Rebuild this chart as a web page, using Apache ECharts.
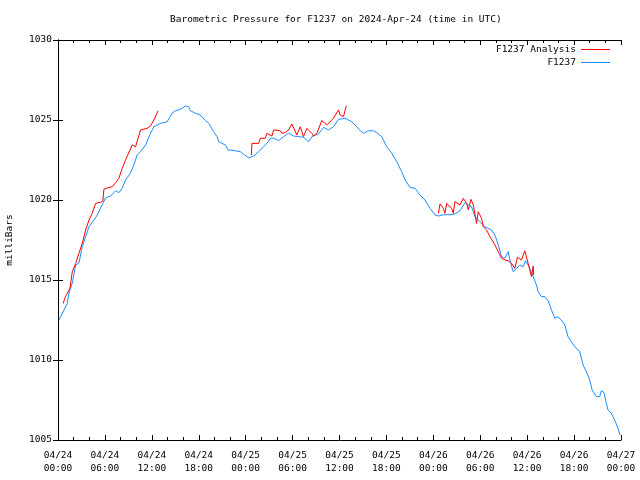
<!DOCTYPE html>
<html>
<head>
<meta charset="utf-8">
<script src="https://cdn.jsdelivr.net/npm/echarts@6/dist/echarts.min.js"></script>
<style>html,body{margin:0;padding:0;background:#fff}#c{width:640px;height:480px}</style>
</head>
<body>
<div id="c"></div>
<script>
// Hours since 2024-04-24 00:00 UTC
const stationHours = [0.13,1.19,1.40,1.83,2.26,2.68,3.10,3.54,3.96,4.60,5.02,5.45,6.09,6.73,7.37,7.79,8.21,8.64,9.28,9.70,10.12,10.56,11.20,11.83,12.26,13.11,13.31,13.95,14.59,15.03,15.45,15.87,16.30,16.72,16.94,17.58,18.22,18.86,19.28,19.91,20.34,20.55,20.97,21.41,21.74,22.69,23.32,23.74,24.38,25.02,25.66,26.30,26.72,27.15,27.57,28.21,28.85,29.49,30.13,30.77,31.40,32.04,32.46,33.32,33.96,34.60,35.23,35.87,36.73,37.57,38.21,38.64,39.06,39.70,40.34,40.77,41.40,42.04,42.68,43.32,43.95,44.39,45.03,45.66,46.30,46.94,47.58,48.22,48.64,49.28,50.13,50.77,51.41,52.05,52.47,52.89,53.32,53.96,54.60,55.44,55.88,56.30,56.72,57.15,57.57,57.79,58.21,58.64,59.07,59.49,59.78,60.13,60.77,61.19,61.40,61.83,62.26,62.68,63.10,63.54,63.87,64.38,64.81,65.23,65.66,66.09,66.29,66.73,67.15,67.57,68.00,68.30,68.85,69.28,69.49,69.83,70.12,70.34,70.76,71.19,71.62,71.87];
const stationValues = [1012.50,1013.54,1014.19,1014.81,1015.94,1016.06,1017.08,1017.71,1018.33,1018.75,1019.06,1019.50,1020.13,1020.25,1020.58,1020.46,1020.73,1021.25,1021.69,1022.19,1022.81,1023.02,1023.44,1024.17,1024.58,1024.79,1024.89,1024.89,1025.42,1025.58,1025.63,1025.73,1025.88,1025.83,1025.58,1025.42,1025.31,1024.96,1024.79,1024.27,1023.96,1023.64,1023.54,1023.44,1023.13,1023.08,1023.02,1022.86,1022.64,1022.75,1023.02,1023.33,1023.54,1023.86,1023.86,1023.71,1023.96,1024.17,1024.00,1023.96,1023.92,1023.64,1023.96,1024.13,1024.54,1024.38,1024.58,1025.04,1025.11,1024.89,1024.58,1024.33,1024.17,1024.33,1024.33,1024.21,1023.96,1023.33,1022.92,1022.39,1021.77,1021.25,1020.79,1020.73,1020.31,1020.00,1019.48,1019.06,1019.00,1019.08,1019.08,1019.13,1019.33,1019.83,1019.69,1019.58,1018.96,1018.64,1018.33,1018.13,1017.81,1017.19,1016.46,1016.36,1016.77,1016.25,1015.52,1015.73,1015.94,1015.83,1016.21,1015.94,1015.21,1014.69,1014.27,1013.96,1013.96,1013.71,1013.13,1012.61,1012.71,1012.50,1012.19,1011.46,1011.14,1010.83,1010.88,1010.52,1009.69,1009.27,1008.75,1008.13,1007.71,1007.71,1008.08,1007.96,1007.29,1006.88,1006.67,1006.25,1005.73,1005.31];

const analysisHours1 = [0.68,0.86,1.19,1.53,1.83,2.26,2.68,3.10,3.54,3.96,4.38,4.81,5.45,5.74,5.87,6.51,6.93,7.37,7.79,8.21,8.64,8.85,9.49,9.92,10.56,10.76,11.40,11.83,12.26,12.80];
const analysisValues1 = [1013.54,1013.86,1014.17,1014.48,1015.52,1016.04,1016.67,1017.29,1018.13,1018.75,1019.17,1019.79,1019.86,1019.94,1020.67,1020.79,1020.83,1021.08,1021.36,1021.98,1022.50,1022.61,1023.44,1023.33,1024.38,1024.27,1024.48,1024.63,1025.00,1025.58];
const analysisHours2 = [24.73,24.80,25.66,25.88,26.51,26.72,27.36,27.57,28.43,28.63,29.07,29.49,29.91,30.55,30.98,31.40,31.83,32.46,32.68,33.10,33.74,34.38,34.60,35.23,35.87,36.09,36.51,36.86];
const analysisValues2 = [1022.81,1023.54,1023.54,1023.86,1023.86,1024.17,1024.00,1024.38,1024.33,1024.17,1024.21,1024.38,1024.75,1024.06,1024.58,1023.96,1024.48,1024.17,1024.00,1024.17,1024.96,1024.69,1024.58,1025.11,1025.63,1025.31,1025.21,1025.88];
const analysisHours3 = [48.64,48.86,49.28,49.49,49.70,50.34,50.55,50.77,51.41,51.62,51.83,52.26,52.47,52.81,53.11,53.53,53.74,54.17,54.38,54.80,55.24,55.88,56.30,56.72,57.15,57.57,57.99,58.42,58.76,59.27,59.70,60.13,60.34,60.55,60.77,60.83];
const analysisValues3 = [1019.17,1019.75,1019.48,1019.17,1019.79,1019.48,1019.17,1019.90,1019.69,1019.58,1020.10,1019.79,1019.38,1020.04,1019.69,1018.54,1019.27,1018.86,1018.33,1018.13,1017.71,1017.19,1016.77,1016.36,1016.25,1016.21,1016.04,1015.73,1016.42,1016.25,1016.83,1016.04,1015.63,1015.21,1015.88,1015.31];

const yTicks = [1005,1010,1015,1020,1025,1030];
const startDay = 24; // April 24, 2024

const zip = (a, b) => a.map((v, i) => [v, b[i]]);
const FONT = 'DejaVu Sans Mono';
const RED = '#ff0000', BLUE = '#1a8cff';

function fmtX(h) {
  const d = startDay + Math.floor(h / 24);
  const hh = h % 24;
  const p = n => (n < 10 ? '0' : '') + n;
  return '04/' + p(d) + '\n' + p(hh) + ':00';
}

const axisCommon = {
  axisLine: { show: true, lineStyle: { color: '#000', width: 1 } },
  splitLine: { show: false }
};

const chart = echarts.init(document.getElementById('c'), null, { renderer: 'canvas' });
chart.setOption({
  animation: false,
  backgroundColor: '#fff',
  title: {
    text: 'Barometric Pressure for F1237 on 2024-Apr-24 (time in UTC)',
    left: 165, top: 10,
    textStyle: { fontFamily: FONT, fontSize: 9.5, fontWeight: 'normal', color: '#000' }
  },
  legend: {
    orient: 'vertical', align: 'right', right: 25, top: 39,
    icon: 'rect', itemWidth: 29, itemHeight: 1, itemGap: 2,
    textStyle: { fontFamily: FONT, fontSize: 9.5, color: '#000', lineHeight: 11 },
    data: ['F1237 Analysis', 'F1237']
  },
  grid: { left: 58, right: 19, top: 40, bottom: 40, containLabel: false, outerBoundsMode: 'none' },
  xAxis: [
    Object.assign({}, axisCommon, {
      type: 'value', min: 0, max: 72, interval: 6, position: 'bottom',
      axisTick: { show: true, inside: true, length: 5, lineStyle: { color: '#000' } },
      minorTick: { show: true, splitNumber: 3, length: 3, lineStyle: { color: '#000' } },
      axisLabel: { formatter: fmtX, fontFamily: FONT, fontSize: 9.5, color: '#000', margin: 9, lineHeight: 13, showMaxLabel: true, showMinLabel: true }
    }),
    Object.assign({}, axisCommon, {
      type: 'value', min: 0, max: 72, interval: 6, position: 'top',
      axisTick: { show: true, inside: true, length: 5, lineStyle: { color: '#000' } },
      minorTick: { show: true, splitNumber: 3, length: 3, lineStyle: { color: '#000' } },
      axisLabel: { show: false }
    })
  ],
  yAxis: [
    Object.assign({}, axisCommon, {
      type: 'value', min: yTicks[0], max: yTicks[yTicks.length - 1], interval: 5, position: 'left',
      name: 'milliBars', nameLocation: 'middle', nameGap: 43, nameRotate: 90,
      nameTextStyle: { fontFamily: FONT, fontSize: 9.5, color: '#000' },
      axisTick: { show: true, inside: true, length: 5, lineStyle: { color: '#000' } },
      axisLabel: { formatter: v => String(v), fontFamily: FONT, fontSize: 9.5, color: '#000', margin: 6 }
    }),
    Object.assign({}, axisCommon, {
      type: 'value', min: yTicks[0], max: yTicks[yTicks.length - 1], interval: 5, position: 'right',
      axisTick: { show: true, inside: true, length: 5, lineStyle: { color: '#000' } },
      axisLabel: { show: false }
    })
  ],
  series: [
    { name: 'F1237', type: 'line', data: zip(stationHours, stationValues), symbol: 'none', color: BLUE, lineStyle: { width: 1, color: BLUE }, z: 2 },
    { name: 'F1237 Analysis', type: 'line', data: zip(analysisHours1, analysisValues1), symbol: 'none', color: RED, lineStyle: { width: 1, color: RED }, z: 3 },
    { name: 'F1237 Analysis', type: 'line', data: zip(analysisHours2, analysisValues2), symbol: 'none', color: RED, lineStyle: { width: 1, color: RED }, z: 3 },
    { name: 'F1237 Analysis', type: 'line', data: zip(analysisHours3, analysisValues3), symbol: 'none', color: RED, lineStyle: { width: 1, color: RED }, z: 3 }
  ]
});
</script>
</body>
</html>
